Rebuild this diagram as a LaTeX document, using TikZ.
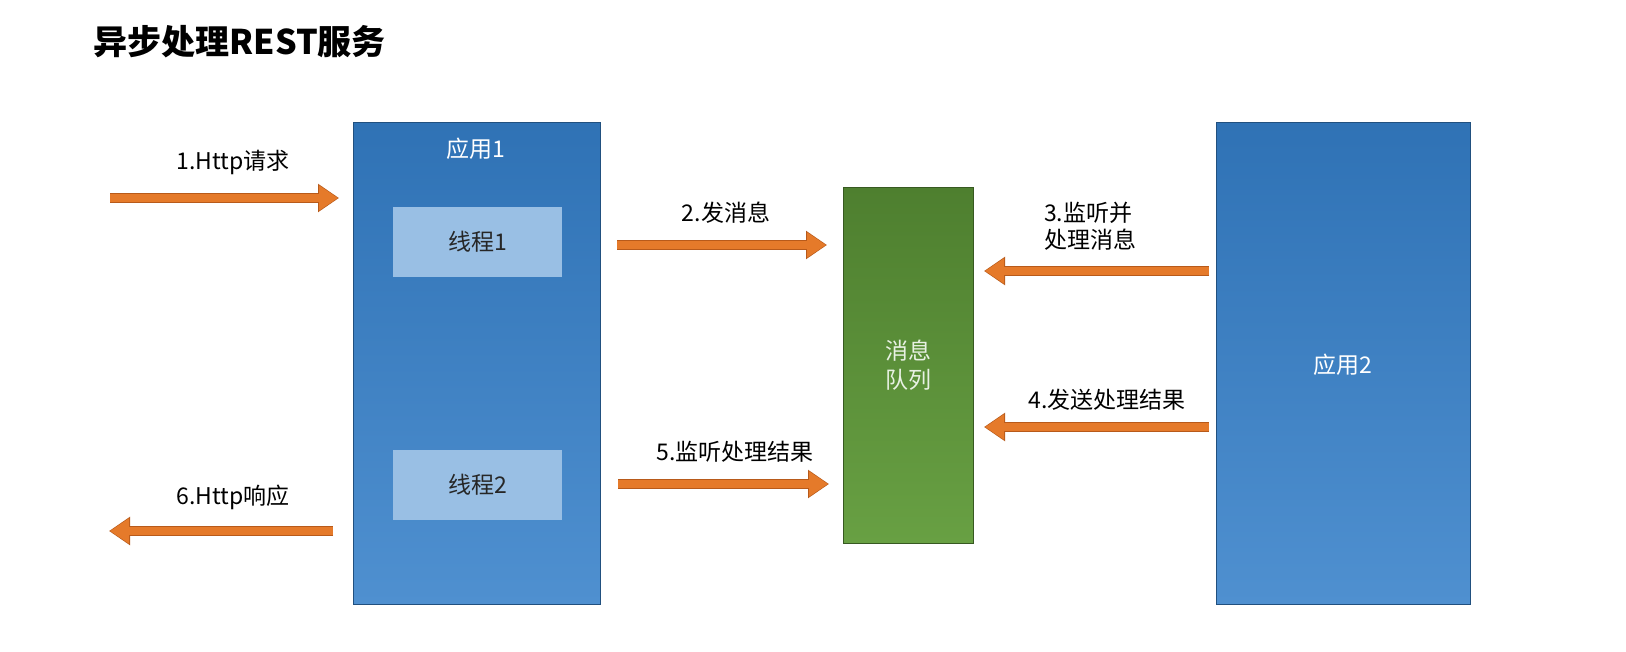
\documentclass[tikz,border=0pt]{standalone}
\usepackage{fontspec}
\setmainfont{Noto Sans CJK SC}
\usetikzlibrary{arrows.meta}
\definecolor{ora}{HTML}{E57A2A}
\definecolor{orad}{HTML}{B85A1A}
\definecolor{bt}{HTML}{2F72B5}
\definecolor{bb}{HTML}{4F90D0}
\definecolor{gt}{HTML}{4E7F2F}
\definecolor{gb}{HTML}{68A043}
\tikzset{
 appbox/.style={draw=bt!70!black, line width=0.6pt, top color=bt, bottom color=bb},
 thr/.style={draw=none, fill=white!42!bb, minimum width=169pt, minimum height=70pt, font=\fontsize{23}{25}\selectfont, text=black!85},
 lab/.style={font=\fontsize{23}{27}\selectfont, text=black, align=left},
 arr/.style={line width=8pt, ora, -{Triangle[length=19pt,width=24pt]}},
 arrout/.style={line width=10pt, orad, -{Triangle[length=21pt,width=27pt]}, shorten >=-1pt},
}
\newcommand{\myarrow}[2]{\draw[arrout] (#1) -- (#2); \draw[arr] (#1) -- (#2);}
\begin{document}
\begin{tikzpicture}[x=1pt,y=-1pt]
\useasboundingbox[fill=white] (0,0) rectangle (1626,651);
\node[anchor=west, font=\bfseries\fontsize{34}{38}\selectfont] (title) at (90,42) {异步处理REST服务};
\draw[appbox] (353,122) rectangle (600,604);
\node[text=white, font=\fontsize{23}{25}\selectfont] (a1) at (476,149) {应用1};
\node[thr] (t1) at (477.5,242) {线程1};
\node[thr] (t2) at (477.5,485) {线程2};
\draw[draw=gt!70!black, line width=0.6pt, top color=gt, bottom color=gb] (843,187) rectangle (973,543);
\node[text=white!85!gb, align=center, font=\fontsize{23}{29}\selectfont] (q) at (908,365) {消息\\队列};
\draw[appbox] (1216,122) rectangle (1470,604);
\node[text=white, font=\fontsize{23}{25}\selectfont] (a2) at (1343,365) {应用2};
\coordinate (p1s) at (110,198); \coordinate (p1e) at (338,198);
\coordinate (p2s) at (617,245); \coordinate (p2e) at (826,245);
\coordinate (p3s) at (1209,271); \coordinate (p3e) at (985,271);
\coordinate (p4s) at (1209,427); \coordinate (p4e) at (985,427);
\coordinate (p5s) at (618,484); \coordinate (p5e) at (828,484);
\coordinate (p6s) at (333,531); \coordinate (p6e) at (110,531);
\myarrow{p1s}{p1e}\myarrow{p2s}{p2e}\myarrow{p3s}{p3e}
\myarrow{p4s}{p4e}\myarrow{p5s}{p5e}\myarrow{p6s}{p6e}
\node[lab] (l1) at (233,162) {1.Http请求};
\node[lab] (l2) at (726,213) {2.发消息};
\node[lab] (l3) at (1090,226) {3.监听并\\处理消息};
\node[lab] (l4) at (1107,400) {4.发送处理结果};
\node[lab] (l5) at (735,452) {5.监听处理结果};
\node[lab] (l6) at (233,497) {6.Http响应};
\end{tikzpicture}
\end{document}
